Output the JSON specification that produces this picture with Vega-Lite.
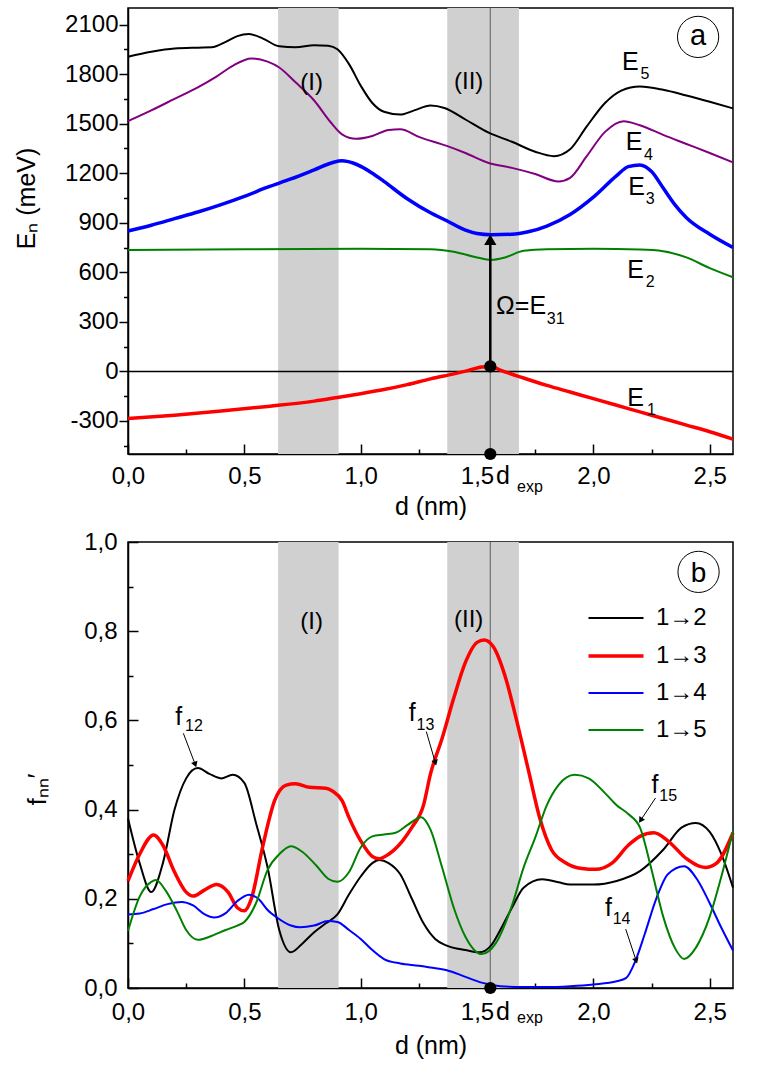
{
  "$schema": "https://vega.github.io/schema/vega-lite/v6.json",
  "background": "white",
  "padding": {"left": 13, "top": 6, "right": 5, "bottom": 5},
  "spacing": 9,
  "resolve": {"scale": {"color": "independent", "strokeWidth": "independent"}},
  "config": {
    "font": "Liberation Sans",
    "view": {"stroke": "black", "strokeWidth": 1.5},
    "axis": {"domainColor": "black", "domainWidth": 1.5, "tickColor": "black", "tickWidth": 1.5, "labelFont": "Liberation Sans", "labelFontSize": 24, "labelColor": "black", "labelFlush": false, "titleFont": "Liberation Sans", "titleFontSize": 25, "titleFontWeight": "normal", "titleColor": "black", "grid": false},
    "legend": {"labelFont": "Liberation Sans", "labelFontSize": 24, "labelColor": "black"},
    "text": {"font": "Liberation Sans", "color": "black"}
  },
  "datasets": {
    "bands": [{"s": 0.645, "e": 0.905}, {"s": 1.372, "e": 1.68}],
    "lev": [
      {"n":"E5","d":0,"E":1905},{"n":"E5","d":0.1,"E":1935},{"n":"E5","d":0.2,"E":1955},{"n":"E5","d":0.3,"E":1960},{"n":"E5","d":0.36,"E":1962},{"n":"E5","d":0.42,"E":1995},{"n":"E5","d":0.47,"E":2030},{"n":"E5","d":0.52,"E":2042},{"n":"E5","d":0.58,"E":2015},{"n":"E5","d":0.65,"E":1968},{"n":"E5","d":0.72,"E":1962},{"n":"E5","d":0.8,"E":1975},{"n":"E5","d":0.86,"E":1972},{"n":"E5","d":0.9,"E":1950},{"n":"E5","d":0.95,"E":1860},{"n":"E5","d":1.0,"E":1730},{"n":"E5","d":1.05,"E":1625},{"n":"E5","d":1.1,"E":1572},{"n":"E5","d":1.17,"E":1555},{"n":"E5","d":1.23,"E":1580},{"n":"E5","d":1.3,"E":1610},{"n":"E5","d":1.36,"E":1595},{"n":"E5","d":1.45,"E":1525},{"n":"E5","d":1.55,"E":1445},{"n":"E5","d":1.65,"E":1390},{"n":"E5","d":1.75,"E":1330},{"n":"E5","d":1.83,"E":1303},{"n":"E5","d":1.9,"E":1345},{"n":"E5","d":1.97,"E":1480},{"n":"E5","d":2.05,"E":1625},{"n":"E5","d":2.12,"E":1700},{"n":"E5","d":2.2,"E":1725},{"n":"E5","d":2.3,"E":1705},{"n":"E5","d":2.4,"E":1670},{"n":"E5","d":2.5,"E":1632},{"n":"E5","d":2.6,"E":1592},
      {"n":"E4","d":0,"E":1515},{"n":"E4","d":0.1,"E":1580},{"n":"E4","d":0.2,"E":1650},{"n":"E4","d":0.3,"E":1720},{"n":"E4","d":0.38,"E":1785},{"n":"E4","d":0.45,"E":1850},{"n":"E4","d":0.53,"E":1895},{"n":"E4","d":0.6,"E":1875},{"n":"E4","d":0.65,"E":1840},{"n":"E4","d":0.72,"E":1750},{"n":"E4","d":0.8,"E":1640},{"n":"E4","d":0.87,"E":1510},{"n":"E4","d":0.92,"E":1435},{"n":"E4","d":0.98,"E":1408},{"n":"E4","d":1.05,"E":1425},{"n":"E4","d":1.12,"E":1462},{"n":"E4","d":1.17,"E":1466},{"n":"E4","d":1.25,"E":1420},{"n":"E4","d":1.37,"E":1365},{"n":"E4","d":1.45,"E":1322},{"n":"E4","d":1.55,"E":1262},{"n":"E4","d":1.65,"E":1232},{"n":"E4","d":1.75,"E":1195},{"n":"E4","d":1.85,"E":1150},{"n":"E4","d":1.9,"E":1172},{"n":"E4","d":1.97,"E":1300},{"n":"E4","d":2.05,"E":1450},{"n":"E4","d":2.13,"E":1515},{"n":"E4","d":2.2,"E":1490},{"n":"E4","d":2.3,"E":1432},{"n":"E4","d":2.4,"E":1377},{"n":"E4","d":2.5,"E":1322},{"n":"E4","d":2.6,"E":1265},
      {"n":"E3","d":0,"E":850},{"n":"E3","d":0.1,"E":885},{"n":"E3","d":0.2,"E":925},{"n":"E3","d":0.3,"E":965},{"n":"E3","d":0.4,"E":1010},{"n":"E3","d":0.5,"E":1060},{"n":"E3","d":0.6,"E":1115},{"n":"E3","d":0.7,"E":1165},{"n":"E3","d":0.8,"E":1220},{"n":"E3","d":0.88,"E":1265},{"n":"E3","d":0.92,"E":1275},{"n":"E3","d":0.97,"E":1260},{"n":"E3","d":1.05,"E":1200},{"n":"E3","d":1.1,"E":1150},{"n":"E3","d":1.2,"E":1045},{"n":"E3","d":1.3,"E":960},{"n":"E3","d":1.37,"E":912},{"n":"E3","d":1.45,"E":855},{"n":"E3","d":1.5,"E":835},{"n":"E3","d":1.56,"E":828},{"n":"E3","d":1.65,"E":830},{"n":"E3","d":1.72,"E":845},{"n":"E3","d":1.8,"E":880},{"n":"E3","d":1.9,"E":950},{"n":"E3","d":2.0,"E":1055},{"n":"E3","d":2.1,"E":1185},{"n":"E3","d":2.15,"E":1240},{"n":"E3","d":2.2,"E":1250},{"n":"E3","d":2.25,"E":1210},{"n":"E3","d":2.3,"E":1110},{"n":"E3","d":2.35,"E":1010},{"n":"E3","d":2.4,"E":930},{"n":"E3","d":2.5,"E":830},{"n":"E3","d":2.6,"E":750},
      {"n":"E2","d":0,"E":735},{"n":"E2","d":0.5,"E":740},{"n":"E2","d":1.0,"E":742},{"n":"E2","d":1.3,"E":740},{"n":"E2","d":1.4,"E":725},{"n":"E2","d":1.5,"E":690},{"n":"E2","d":1.56,"E":675},{"n":"E2","d":1.62,"E":690},{"n":"E2","d":1.7,"E":730},{"n":"E2","d":1.8,"E":740},{"n":"E2","d":2.0,"E":742},{"n":"E2","d":2.2,"E":738},{"n":"E2","d":2.3,"E":728},{"n":"E2","d":2.4,"E":690},{"n":"E2","d":2.5,"E":625},{"n":"E2","d":2.6,"E":570},
      {"n":"E1","d":0,"E":-285},{"n":"E1","d":0.2,"E":-265},{"n":"E1","d":0.4,"E":-240},{"n":"E1","d":0.6,"E":-212},{"n":"E1","d":0.8,"E":-180},{"n":"E1","d":0.9,"E":-158},{"n":"E1","d":1.0,"E":-135},{"n":"E1","d":1.1,"E":-110},{"n":"E1","d":1.2,"E":-80},{"n":"E1","d":1.3,"E":-45},{"n":"E1","d":1.4,"E":-15},{"n":"E1","d":1.46,"E":5},{"n":"E1","d":1.52,"E":27},{"n":"E1","d":1.56,"E":30},{"n":"E1","d":1.6,"E":8},{"n":"E1","d":1.7,"E":-40},{"n":"E1","d":1.8,"E":-85},{"n":"E1","d":1.9,"E":-125},{"n":"E1","d":2.0,"E":-165},{"n":"E1","d":2.1,"E":-205},{"n":"E1","d":2.2,"E":-245},{"n":"E1","d":2.3,"E":-285},{"n":"E1","d":2.4,"E":-325},{"n":"E1","d":2.5,"E":-365},{"n":"E1","d":2.6,"E":-410}
    ],
    "osc": [
      {"s":"1→2","d":0,"f":0.38},{"s":"1→2","d":0.05,"f":0.28},{"s":"1→2","d":0.1,"f":0.215},{"s":"1→2","d":0.15,"f":0.28},{"s":"1→2","d":0.2,"f":0.4},{"s":"1→2","d":0.25,"f":0.47},{"s":"1→2","d":0.3,"f":0.493},{"s":"1→2","d":0.35,"f":0.48},{"s":"1→2","d":0.4,"f":0.47},{"s":"1→2","d":0.45,"f":0.478},{"s":"1→2","d":0.5,"f":0.46},{"s":"1→2","d":0.55,"f":0.37},{"s":"1→2","d":0.6,"f":0.27},{"s":"1→2","d":0.65,"f":0.13},{"s":"1→2","d":0.7,"f":0.08},{"s":"1→2","d":0.75,"f":0.1},{"s":"1→2","d":0.8,"f":0.125},{"s":"1→2","d":0.85,"f":0.145},{"s":"1→2","d":0.9,"f":0.165},{"s":"1→2","d":0.95,"f":0.21},{"s":"1→2","d":1.0,"f":0.25},{"s":"1→2","d":1.05,"f":0.28},{"s":"1→2","d":1.08,"f":0.287},{"s":"1→2","d":1.12,"f":0.28},{"s":"1→2","d":1.17,"f":0.255},{"s":"1→2","d":1.22,"f":0.2},{"s":"1→2","d":1.27,"f":0.145},{"s":"1→2","d":1.32,"f":0.11},{"s":"1→2","d":1.37,"f":0.095},{"s":"1→2","d":1.45,"f":0.085},{"s":"1→2","d":1.51,"f":0.08},{"s":"1→2","d":1.56,"f":0.095},{"s":"1→2","d":1.6,"f":0.13},{"s":"1→2","d":1.65,"f":0.18},{"s":"1→2","d":1.7,"f":0.225},{"s":"1→2","d":1.78,"f":0.244},{"s":"1→2","d":1.85,"f":0.237},{"s":"1→2","d":1.9,"f":0.232},{"s":"1→2","d":2.0,"f":0.232},{"s":"1→2","d":2.1,"f":0.24},{"s":"1→2","d":2.2,"f":0.262},{"s":"1→2","d":2.3,"f":0.31},{"s":"1→2","d":2.38,"f":0.36},{"s":"1→2","d":2.44,"f":0.37},{"s":"1→2","d":2.5,"f":0.35},{"s":"1→2","d":2.55,"f":0.3},{"s":"1→2","d":2.6,"f":0.225},
      {"s":"1→3","d":0,"f":0.24},{"s":"1→3","d":0.05,"f":0.3},{"s":"1→3","d":0.11,"f":0.343},{"s":"1→3","d":0.15,"f":0.32},{"s":"1→3","d":0.2,"f":0.26},{"s":"1→3","d":0.25,"f":0.215},{"s":"1→3","d":0.28,"f":0.206},{"s":"1→3","d":0.33,"f":0.22},{"s":"1→3","d":0.38,"f":0.232},{"s":"1→3","d":0.43,"f":0.215},{"s":"1→3","d":0.47,"f":0.18},{"s":"1→3","d":0.5,"f":0.173},{"s":"1→3","d":0.53,"f":0.2},{"s":"1→3","d":0.58,"f":0.32},{"s":"1→3","d":0.63,"f":0.42},{"s":"1→3","d":0.68,"f":0.455},{"s":"1→3","d":0.72,"f":0.458},{"s":"1→3","d":0.78,"f":0.45},{"s":"1→3","d":0.85,"f":0.448},{"s":"1→3","d":0.88,"f":0.441},{"s":"1→3","d":0.92,"f":0.42},{"s":"1→3","d":0.95,"f":0.382},{"s":"1→3","d":1.0,"f":0.33},{"s":"1→3","d":1.05,"f":0.295},{"s":"1→3","d":1.08,"f":0.29},{"s":"1→3","d":1.12,"f":0.3},{"s":"1→3","d":1.18,"f":0.33},{"s":"1→3","d":1.22,"f":0.36},{"s":"1→3","d":1.27,"f":0.41},{"s":"1→3","d":1.3,"f":0.48},{"s":"1→3","d":1.35,"f":0.56},{"s":"1→3","d":1.4,"f":0.65},{"s":"1→3","d":1.45,"f":0.73},{"s":"1→3","d":1.5,"f":0.775},{"s":"1→3","d":1.53,"f":0.78},{"s":"1→3","d":1.57,"f":0.765},{"s":"1→3","d":1.62,"f":0.7},{"s":"1→3","d":1.67,"f":0.6},{"s":"1→3","d":1.72,"f":0.49},{"s":"1→3","d":1.77,"f":0.38},{"s":"1→3","d":1.82,"f":0.31},{"s":"1→3","d":1.88,"f":0.281},{"s":"1→3","d":1.95,"f":0.268},{"s":"1→3","d":2.01,"f":0.266},{"s":"1→3","d":2.08,"f":0.28},{"s":"1→3","d":2.15,"f":0.32},{"s":"1→3","d":2.2,"f":0.34},{"s":"1→3","d":2.26,"f":0.348},{"s":"1→3","d":2.32,"f":0.33},{"s":"1→3","d":2.4,"f":0.29},{"s":"1→3","d":2.48,"f":0.27},{"s":"1→3","d":2.53,"f":0.28},{"s":"1→3","d":2.6,"f":0.348},
      {"s":"1→4","d":0,"f":0.165},{"s":"1→4","d":0.05,"f":0.167},{"s":"1→4","d":0.11,"f":0.177},{"s":"1→4","d":0.17,"f":0.188},{"s":"1→4","d":0.23,"f":0.193},{"s":"1→4","d":0.28,"f":0.185},{"s":"1→4","d":0.33,"f":0.165},{"s":"1→4","d":0.37,"f":0.158},{"s":"1→4","d":0.42,"f":0.168},{"s":"1→4","d":0.47,"f":0.195},{"s":"1→4","d":0.52,"f":0.209},{"s":"1→4","d":0.56,"f":0.2},{"s":"1→4","d":0.6,"f":0.175},{"s":"1→4","d":0.64,"f":0.158},{"s":"1→4","d":0.7,"f":0.14},{"s":"1→4","d":0.74,"f":0.136},{"s":"1→4","d":0.8,"f":0.14},{"s":"1→4","d":0.86,"f":0.15},{"s":"1→4","d":0.9,"f":0.148},{"s":"1→4","d":0.95,"f":0.13},{"s":"1→4","d":1.0,"f":0.11},{"s":"1→4","d":1.05,"f":0.085},{"s":"1→4","d":1.1,"f":0.065},{"s":"1→4","d":1.17,"f":0.055},{"s":"1→4","d":1.25,"f":0.05},{"s":"1→4","d":1.3,"f":0.046},{"s":"1→4","d":1.37,"f":0.04},{"s":"1→4","d":1.45,"f":0.025},{"s":"1→4","d":1.52,"f":0.012},{"s":"1→4","d":1.6,"f":0.004},{"s":"1→4","d":1.7,"f":0.002},{"s":"1→4","d":1.8,"f":0.002},{"s":"1→4","d":1.9,"f":0.004},{"s":"1→4","d":2.0,"f":0.008},{"s":"1→4","d":2.1,"f":0.015},{"s":"1→4","d":2.14,"f":0.022},{"s":"1→4","d":2.18,"f":0.06},{"s":"1→4","d":2.22,"f":0.12},{"s":"1→4","d":2.27,"f":0.2},{"s":"1→4","d":2.32,"f":0.255},{"s":"1→4","d":2.39,"f":0.273},{"s":"1→4","d":2.45,"f":0.24},{"s":"1→4","d":2.5,"f":0.19},{"s":"1→4","d":2.55,"f":0.135},{"s":"1→4","d":2.6,"f":0.084},
      {"s":"1→5","d":0,"f":0.128},{"s":"1→5","d":0.05,"f":0.205},{"s":"1→5","d":0.1,"f":0.238},{"s":"1→5","d":0.12,"f":0.242},{"s":"1→5","d":0.16,"f":0.22},{"s":"1→5","d":0.21,"f":0.173},{"s":"1→5","d":0.25,"f":0.13},{"s":"1→5","d":0.3,"f":0.108},{"s":"1→5","d":0.35,"f":0.115},{"s":"1→5","d":0.42,"f":0.13},{"s":"1→5","d":0.47,"f":0.14},{"s":"1→5","d":0.5,"f":0.148},{"s":"1→5","d":0.55,"f":0.19},{"s":"1→5","d":0.6,"f":0.265},{"s":"1→5","d":0.65,"f":0.3},{"s":"1→5","d":0.7,"f":0.318},{"s":"1→5","d":0.75,"f":0.305},{"s":"1→5","d":0.81,"f":0.274},{"s":"1→5","d":0.86,"f":0.245},{"s":"1→5","d":0.9,"f":0.238},{"s":"1→5","d":0.95,"f":0.26},{"s":"1→5","d":1.0,"f":0.315},{"s":"1→5","d":1.05,"f":0.34},{"s":"1→5","d":1.1,"f":0.344},{"s":"1→5","d":1.15,"f":0.348},{"s":"1→5","d":1.2,"f":0.365},{"s":"1→5","d":1.26,"f":0.383},{"s":"1→5","d":1.3,"f":0.355},{"s":"1→5","d":1.35,"f":0.27},{"s":"1→5","d":1.4,"f":0.18},{"s":"1→5","d":1.45,"f":0.115},{"s":"1→5","d":1.52,"f":0.076},{"s":"1→5","d":1.58,"f":0.1},{"s":"1→5","d":1.65,"f":0.185},{"s":"1→5","d":1.7,"f":0.27},{"s":"1→5","d":1.75,"f":0.337},{"s":"1→5","d":1.8,"f":0.41},{"s":"1→5","d":1.85,"f":0.455},{"s":"1→5","d":1.92,"f":0.478},{"s":"1→5","d":1.98,"f":0.47},{"s":"1→5","d":2.05,"f":0.437},{"s":"1→5","d":2.1,"f":0.41},{"s":"1→5","d":2.15,"f":0.39},{"s":"1→5","d":2.2,"f":0.36},{"s":"1→5","d":2.25,"f":0.265},{"s":"1→5","d":2.3,"f":0.16},{"s":"1→5","d":2.35,"f":0.09},{"s":"1→5","d":2.39,"f":0.065},{"s":"1→5","d":2.44,"f":0.09},{"s":"1→5","d":2.5,"f":0.16},{"s":"1→5","d":2.55,"f":0.25},{"s":"1→5","d":2.6,"f":0.352}
    ],
    "topMain": [
      {"t":"E","d":2.123,"v":1823},{"t":"E","d":2.139,"v":1338},{"t":"E","d":2.15,"v":1065},{"t":"E","d":2.146,"v":568},{"t":"E","d":2.146,"v":-211},{"t":"Ω=E","d":1.582,"v":346},{"t":"d","d":1.582,"v":-683}
    ],
    "topSub": [
      {"t":"5","d":2.203,"v":1773},{"t":"4","d":2.217,"v":1281},{"t":"3","d":2.225,"v":1014},{"t":"2","d":2.225,"v":512},{"t":"1","d":2.23,"v":-261},{"t":"31","d":1.8,"v":285},{"t":"exp","d":1.672,"v":-733}
    ],
    "botMain": [
      {"t":"f","d":0.203,"v":0.59},{"t":"f","d":1.207,"v":0.598},{"t":"f","d":2.05,"v":0.162},{"t":"f","d":2.25,"v":0.437},{"t":"d","d":1.582,"v":-0.0715}
    ],
    "botSub": [
      {"t":"12","d":0.245,"v":0.577},{"t":"13","d":1.24,"v":0.579},{"t":"14","d":2.083,"v":0.143},{"t":"15","d":2.283,"v":0.42},{"t":"exp","d":1.672,"v":-0.079}
    ],
    "arrows": [
      {"k":"f12","d":0.238,"v":0.571,"d2":0.289,"v2":0.501},
      {"k":"f13","d":1.282,"v":0.575,"d2":1.321,"v2":0.505},
      {"k":"f14","d":2.139,"v":0.132,"d2":2.184,"v2":0.061},
      {"k":"f15","d":2.267,"v":0.426,"d2":2.203,"v2":0.376}
    ]
  },
  "vconcat": [
    {
      "width": 605, "height": 446,
      "resolve": {"axis": {"x": "independent", "y": "independent"}},
      "layer": [
        {
          "data": {"values": [{"d": 1, "E": 0}]},
          "mark": {"type": "point", "opacity": 0},
          "encoding": {
            "x": {"field": "d", "type": "quantitative", "scale": {"domain": [0, 2.6], "nice": false, "zero": false}, "axis": {"orient": "bottom", "values": [0.25, 0.75, 1.25, 1.75, 2.25], "labels": false, "tickSize": -5, "domain": false, "title": null}},
            "y": {"field": "E", "type": "quantitative", "scale": {"domain": [-500, 2200], "nice": false, "zero": false}, "axis": {"orient": "left", "values": [-450, -150, 150, 450, 750, 1050, 1350, 1650, 1950], "labels": false, "tickSize": 4.5, "domain": false, "title": null}}
          }
        },
        {
          "layer": [
            {
              "data": {"name": "bands"},
              "mark": {"type": "rect", "color": "#d0d0d0"},
              "encoding": {"x": {"field": "s", "type": "quantitative"}, "x2": {"field": "e"}}
            },
            {
              "data": {"values": [{"d": 1.557}]},
              "mark": {"type": "rule", "color": "#707070", "strokeWidth": 1.2},
              "encoding": {"x": {"field": "d", "type": "quantitative"}}
            },
            {
              "data": {"values": [{"E": 0}]},
              "mark": {"type": "rule", "color": "black", "strokeWidth": 1.5},
              "encoding": {"y": {"field": "E", "type": "quantitative"}}
            },
            {
              "data": {"name": "lev"},
              "mark": {"type": "line", "interpolate": "monotone"},
              "encoding": {
                "x": {"field": "d", "type": "quantitative", "scale": {"domain": [0, 2.6], "nice": false, "zero": false},
                  "axis": {"orient": "bottom", "values": [0, 0.5, 1, 1.5, 2, 2.5], "tickSize": -10, "labelPadding": 20, "labelExpr": "replace(format(datum.value,'.1f'),'.',',')", "title": "d (nm)", "titlePadding": 6}},
                "y": {"field": "E", "type": "quantitative", "scale": {"domain": [-500, 2200], "nice": false, "zero": false},
                  "axis": {"orient": "left", "values": [-300, 0, 300, 600, 900, 1200, 1500, 1800, 2100], "tickSize": 9, "labelPadding": 1, "labelExpr": "(datum.value<0?'-':'')+format(abs(datum.value),'d')", "title": "Eₙ (meV)", "titleX": -89, "titleY": 190}},
                "color": {"field": "n", "type": "nominal", "scale": {"domain": ["E1", "E2", "E3", "E4", "E5"], "range": ["#ff0000", "#008000", "#0000ff", "#800080", "#000000"]}, "legend": null},
                "strokeWidth": {"field": "n", "type": "nominal", "scale": {"type": "ordinal", "domain": ["E1", "E2", "E3", "E4", "E5"], "range": [3.5, 2, 3.5, 2, 2]}, "legend": null}
              }
            },
            {
              "data": {"values": [{"d": 1.557, "a": 30, "b": 800}]},
              "mark": {"type": "rule", "color": "black", "strokeWidth": 2.5},
              "encoding": {"x": {"field": "d", "type": "quantitative"}, "y": {"field": "a", "type": "quantitative"}, "y2": {"field": "b"}}
            },
            {
              "data": {"values": [{"d": 1.557, "E": 797}]},
              "mark": {"type": "point", "shape": "triangle-up", "filled": true, "color": "black", "size": 150, "opacity": 1},
              "encoding": {"x": {"field": "d", "type": "quantitative"}, "y": {"field": "E", "type": "quantitative"}}
            },
            {
              "data": {"values": [{"d": 1.557, "E": 30}, {"d": 1.557, "E": -500}]},
              "mark": {"type": "point", "shape": "circle", "filled": true, "color": "black", "size": 150, "opacity": 1},
              "encoding": {"x": {"field": "d", "type": "quantitative"}, "y": {"field": "E", "type": "quantitative"}}
            },
            {
              "data": {"name": "topMain"},
              "mark": {"type": "text", "fontSize": 25, "align": "left", "baseline": "alphabetic"},
              "encoding": {"x": {"field": "d", "type": "quantitative"}, "y": {"field": "v", "type": "quantitative"}, "text": {"field": "t"}}
            },
            {
              "data": {"name": "topSub"},
              "mark": {"type": "text", "fontSize": 16, "align": "left", "baseline": "alphabetic"},
              "encoding": {"x": {"field": "d", "type": "quantitative"}, "y": {"field": "v", "type": "quantitative"}, "text": {"field": "t"}}
            },
            {
              "data": {"values": [{"t": "(I)", "d": 0.789, "v": 1743}, {"t": "(II)", "d": 1.464, "v": 1752}]},
              "mark": {"type": "text", "fontSize": 24, "align": "center", "baseline": "middle"},
              "encoding": {"x": {"field": "d", "type": "quantitative"}, "y": {"field": "v", "type": "quantitative"}, "text": {"field": "t"}}
            },
            {
              "data": {"values": [{"d": 2.45, "v": 2025}]},
              "mark": {"type": "point", "shape": "circle", "size": 1700, "stroke": "black", "strokeWidth": 1, "fill": null, "opacity": 1},
              "encoding": {"x": {"field": "d", "type": "quantitative"}, "y": {"field": "v", "type": "quantitative"}}
            },
            {
              "data": {"values": [{"t": "a", "d": 2.45, "v": 1975}]},
              "mark": {"type": "text", "fontSize": 29, "align": "center", "baseline": "alphabetic"},
              "encoding": {"x": {"field": "d", "type": "quantitative"}, "y": {"field": "v", "type": "quantitative"}, "text": {"field": "t"}}
            }
          ]
        }
      ]
    },
    {
      "width": 605, "height": 446,
      "resolve": {"axis": {"x": "independent", "y": "independent"}},
      "layer": [
        {
          "data": {"values": [{"d": 1, "f": 0.5}]},
          "mark": {"type": "point", "opacity": 0},
          "encoding": {
            "x": {"field": "d", "type": "quantitative", "scale": {"domain": [0, 2.6], "nice": false, "zero": false}, "axis": {"orient": "bottom", "values": [0.25, 0.75, 1.25, 1.75, 2.25], "labels": false, "tickSize": -5, "domain": false, "title": null}},
            "y": {"field": "f", "type": "quantitative", "scale": {"domain": [0, 1], "nice": false, "zero": false}, "axis": {"orient": "left", "values": [0.1, 0.3, 0.5, 0.7, 0.9], "labels": false, "tickSize": -5, "domain": false, "title": null}}
          }
        },
        {
          "layer": [
            {
              "data": {"name": "bands"},
              "mark": {"type": "rect", "color": "#d0d0d0"},
              "encoding": {"x": {"field": "s", "type": "quantitative"}, "x2": {"field": "e"}}
            },
            {
              "data": {"values": [{"d": 1.557}]},
              "mark": {"type": "rule", "color": "#707070", "strokeWidth": 1.2},
              "encoding": {"x": {"field": "d", "type": "quantitative"}}
            },
            {
              "data": {"name": "osc"},
              "mark": {"type": "line", "interpolate": "monotone"},
              "encoding": {
                "x": {"field": "d", "type": "quantitative", "scale": {"domain": [0, 2.6], "nice": false, "zero": false},
                  "axis": {"orient": "bottom", "values": [0, 0.5, 1, 1.5, 2, 2.5], "tickSize": -10, "labelPadding": 22, "labelExpr": "replace(format(datum.value,'.1f'),'.',',')", "title": "d (nm)", "titlePadding": 9}},
                "y": {"field": "f", "type": "quantitative", "scale": {"domain": [0, 1], "nice": false, "zero": false},
                  "axis": {"orient": "left", "values": [0, 0.2, 0.4, 0.6, 0.8, 1], "tickSize": -10, "labelPadding": 21, "labelExpr": "replace(format(datum.value,'.1f'),'.',',')", "title": "fₙₙ′", "titleX": -78, "titleY": 247}},
                "color": {"field": "s", "type": "nominal", "scale": {"domain": ["1→2", "1→3", "1→4", "1→5"], "range": ["#000000", "#ff0000", "#0000ff", "#008000"]},
                  "legend": {"title": null, "orient": "none", "legendX": 475, "legendY": 64, "padding": 0, "symbolType": "M-2.5,0H2.5", "symbolSize": 484, "rowPadding": 13, "labelOffset": 27, "labelFontSize": 24}},
                "strokeWidth": {"field": "s", "type": "nominal", "scale": {"type": "ordinal", "domain": ["1→2", "1→3", "1→4", "1→5"], "range": [2, 3.5, 2, 2]}, "legend": {"title": null, "orient": "none", "legendX": 475, "legendY": 64, "padding": 0, "symbolType": "M-2.5,0H2.5", "symbolSize": 484, "rowPadding": 13, "labelOffset": 27, "labelFontSize": 24}}
              }
            },
            {
              "data": {"values": [{"d": 1.557, "v": 0}]},
              "mark": {"type": "point", "shape": "circle", "filled": true, "color": "black", "size": 150, "opacity": 1},
              "encoding": {"x": {"field": "d", "type": "quantitative"}, "y": {"field": "v", "type": "quantitative"}}
            },
            {
              "data": {"name": "arrows"},
              "mark": {"type": "rule", "color": "black", "strokeWidth": 1},
              "encoding": {"x": {"field": "d", "type": "quantitative"}, "y": {"field": "v", "type": "quantitative"}, "x2": {"field": "d2"}, "y2": {"field": "v2"}}
            },
            {
              "data": {"name": "arrows"},
              "transform": [{"filter": "datum.k == 'f12'"}],
              "mark": {"type": "point", "shape": "triangle-down", "filled": true, "color": "black", "size": 45, "opacity": 1, "angle": -20},
              "encoding": {"x": {"field": "d2", "type": "quantitative"}, "y": {"field": "v2", "type": "quantitative"}}
            },
            {
              "data": {"name": "arrows"},
              "transform": [{"filter": "datum.k == 'f13'"}],
              "mark": {"type": "point", "shape": "triangle-down", "filled": true, "color": "black", "size": 45, "opacity": 1, "angle": -16},
              "encoding": {"x": {"field": "d2", "type": "quantitative"}, "y": {"field": "v2", "type": "quantitative"}}
            },
            {
              "data": {"name": "arrows"},
              "transform": [{"filter": "datum.k == 'f14'"}],
              "mark": {"type": "point", "shape": "triangle-down", "filled": true, "color": "black", "size": 45, "opacity": 1, "angle": -18},
              "encoding": {"x": {"field": "d2", "type": "quantitative"}, "y": {"field": "v2", "type": "quantitative"}}
            },
            {
              "data": {"name": "arrows"},
              "transform": [{"filter": "datum.k == 'f15'"}],
              "mark": {"type": "point", "shape": "triangle-down", "filled": true, "color": "black", "size": 45, "opacity": 1, "angle": 33},
              "encoding": {"x": {"field": "d2", "type": "quantitative"}, "y": {"field": "v2", "type": "quantitative"}}
            },
            {
              "data": {"name": "botMain"},
              "mark": {"type": "text", "fontSize": 25, "align": "left", "baseline": "alphabetic"},
              "encoding": {"x": {"field": "d", "type": "quantitative"}, "y": {"field": "v", "type": "quantitative"}, "text": {"field": "t"}}
            },
            {
              "data": {"name": "botSub"},
              "mark": {"type": "text", "fontSize": 16, "align": "left", "baseline": "alphabetic"},
              "encoding": {"x": {"field": "d", "type": "quantitative"}, "y": {"field": "v", "type": "quantitative"}, "text": {"field": "t"}}
            },
            {
              "data": {"values": [{"t": "(I)", "d": 0.789, "v": 0.821}, {"t": "(II)", "d": 1.464, "v": 0.825}]},
              "mark": {"type": "text", "fontSize": 24, "align": "center", "baseline": "middle"},
              "encoding": {"x": {"field": "d", "type": "quantitative"}, "y": {"field": "v", "type": "quantitative"}, "text": {"field": "t"}}
            },
            {
              "data": {"values": [{"d": 2.452, "v": 0.933}]},
              "mark": {"type": "point", "shape": "circle", "size": 1700, "stroke": "black", "strokeWidth": 1, "fill": null, "opacity": 1},
              "encoding": {"x": {"field": "d", "type": "quantitative"}, "y": {"field": "v", "type": "quantitative"}}
            },
            {
              "data": {"values": [{"t": "b", "d": 2.452, "v": 0.911}]},
              "mark": {"type": "text", "fontSize": 28, "align": "center", "baseline": "alphabetic"},
              "encoding": {"x": {"field": "d", "type": "quantitative"}, "y": {"field": "v", "type": "quantitative"}, "text": {"field": "t"}}
            }
          ]
        }
      ]
    }
  ]
}
